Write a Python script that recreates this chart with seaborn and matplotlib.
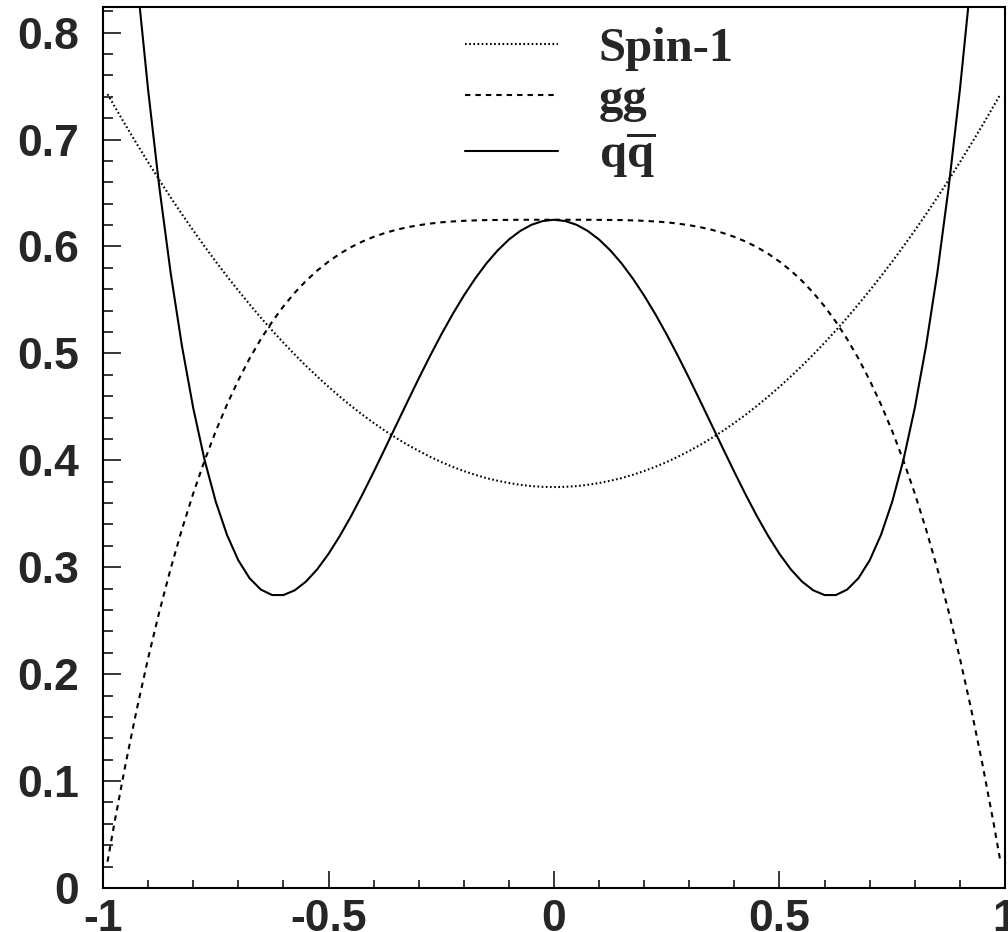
import numpy as np
import pandas as pd
import matplotlib
matplotlib.use('Agg')
import matplotlib.pyplot as plt
import seaborn as sns
from matplotlib.ticker import MultipleLocator

# cos(theta) sample points and curve values
cos_theta = [-0.99, -0.975, -0.95, -0.925, -0.9, -0.875, -0.85, -0.825, -0.8, -0.775,
             -0.75, -0.725, -0.7, -0.675, -0.65, -0.625, -0.6, -0.575, -0.55, -0.525,
             -0.5, -0.475, -0.45, -0.425, -0.4, -0.375, -0.35, -0.325, -0.3, -0.275,
             -0.25, -0.225, -0.2, -0.175, -0.15, -0.125, -0.1, -0.075, -0.05, -0.025, 0.0,
             0.025, 0.05, 0.075, 0.1, 0.125, 0.15, 0.175, 0.2, 0.225, 0.25,
             0.275, 0.3, 0.325, 0.35, 0.375, 0.4, 0.425, 0.45, 0.475, 0.5,
             0.525, 0.55, 0.575, 0.6, 0.625, 0.65, 0.675, 0.7, 0.725, 0.75,
             0.775, 0.8, 0.825, 0.85, 0.875, 0.9, 0.925, 0.95, 0.975, 0.99]
spin1 = [0.7425, 0.7315, 0.7134, 0.6959, 0.6788, 0.6621, 0.6459, 0.6302, 0.6150, 0.6002,
         0.5859, 0.5721, 0.5588, 0.5459, 0.5334, 0.5215, 0.5100, 0.4990, 0.4884, 0.4784,
         0.4688, 0.4596, 0.4509, 0.4427, 0.4350, 0.4277, 0.4209, 0.4146, 0.4088, 0.4034,
         0.3984, 0.3940, 0.3900, 0.3865, 0.3834, 0.3809, 0.3788, 0.3771, 0.3759, 0.3752, 0.3750,
         0.3752, 0.3759, 0.3771, 0.3788, 0.3809, 0.3834, 0.3865, 0.3900, 0.3940, 0.3984,
         0.4034, 0.4088, 0.4146, 0.4209, 0.4277, 0.4350, 0.4427, 0.4509, 0.4596, 0.4688,
         0.4784, 0.4884, 0.4990, 0.5100, 0.5215, 0.5334, 0.5459, 0.5588, 0.5721, 0.5859,
         0.6002, 0.6150, 0.6302, 0.6459, 0.6621, 0.6788, 0.6959, 0.7134, 0.7315, 0.7425]
gg = [0.0246, 0.0602, 0.1159, 0.1674, 0.2149, 0.2586, 0.2987, 0.3355, 0.3690, 0.3995,
      0.4273, 0.4523, 0.4749, 0.4953, 0.5134, 0.5296, 0.5440, 0.5567, 0.5678, 0.5775,
      0.5859, 0.5932, 0.5994, 0.6046, 0.6090, 0.6126, 0.6156, 0.6180, 0.6199, 0.6214,
      0.6226, 0.6234, 0.6240, 0.6244, 0.6247, 0.6248, 0.6249, 0.6250, 0.6250, 0.6250, 0.6250,
      0.6250, 0.6250, 0.6250, 0.6249, 0.6248, 0.6247, 0.6244, 0.6240, 0.6234, 0.6226,
      0.6214, 0.6199, 0.6180, 0.6156, 0.6126, 0.6090, 0.6046, 0.5994, 0.5932, 0.5859,
      0.5775, 0.5678, 0.5567, 0.5440, 0.5296, 0.5134, 0.4953, 0.4749, 0.4523, 0.4273,
      0.3995, 0.3690, 0.3355, 0.2987, 0.2586, 0.2149, 0.1674, 0.1159, 0.0602, 0.0246]
qqbar = [1.1888, 1.1018, 0.9691, 0.8509, 0.7465, 0.6549, 0.5753, 0.5070, 0.4490, 0.4007,
         0.3613, 0.3302, 0.3065, 0.2897, 0.2791, 0.2740, 0.2740, 0.2784, 0.2866, 0.2981,
         0.3125, 0.3292, 0.3478, 0.3679, 0.3890, 0.4108, 0.4328, 0.4548, 0.4765, 0.4975,
         0.5176, 0.5365, 0.5540, 0.5699, 0.5841, 0.5963, 0.6065, 0.6145, 0.6203, 0.6238, 0.6250,
         0.6238, 0.6203, 0.6145, 0.6065, 0.5963, 0.5841, 0.5699, 0.5540, 0.5365, 0.5176,
         0.4975, 0.4765, 0.4548, 0.4328, 0.4108, 0.3890, 0.3679, 0.3478, 0.3292, 0.3125,
         0.2981, 0.2866, 0.2784, 0.2740, 0.2740, 0.2791, 0.2897, 0.3065, 0.3302, 0.3613,
         0.4007, 0.4490, 0.5070, 0.5753, 0.6549, 0.7465, 0.8509, 0.9691, 1.1018, 1.1888]
labels = ['Spin-1', 'gg', r'q$\overline{\mathbf{q}}$']
xticks = [-1, -0.5, 0, 0.5, 1]
xticklabels = ['-1', '-0.5', '0', '0.5', '1']
yticks = [0, 0.1, 0.2, 0.3, 0.4, 0.5, 0.6, 0.7, 0.8]
yticklabels = ['0', '0.1', '0.2', '0.3', '0.4', '0.5', '0.6', '0.7', '0.8']

sns.set_theme(style='ticks')
plt.rcParams['font.family'] = ['Liberation Sans', 'DejaVu Sans']
plt.rcParams['mathtext.fontset'] = 'custom'
plt.rcParams['mathtext.bf'] = 'Liberation Serif:bold'
plt.rcParams['mathtext.rm'] = 'Liberation Serif:bold'

fig = plt.figure(figsize=(10.08, 9.32), dpi=100)
ax = fig.add_axes([0.1022, 0.0472, 0.8948, 0.9453])

df = pd.DataFrame({'x': cos_theta, 'spin1': spin1, 'gg': gg, 'qq': qqbar})
sns.lineplot(data=df, x='x', y='spin1', ax=ax, color='black', lw=1.5,
             linestyle=(0, (0.8, 1.2)), label=labels[0])
sns.lineplot(data=df, x='x', y='gg', ax=ax, color='black', lw=1.5,
             linestyle=(0, (2.6, 2.4)), label=labels[1])
sns.lineplot(data=df, x='x', y='qq', ax=ax, color='black', lw=1.5,
             linestyle='-', label=labels[2])

ax.set_xlim(-1, 1)
ax.set_ylim(0, 0.824)
ax.set_xlabel('')
ax.set_ylabel('')
ax.xaxis.set_minor_locator(MultipleLocator(0.1))
ax.yaxis.set_minor_locator(MultipleLocator(0.02))
ax.set_xticks(xticks)
ax.set_xticklabels(xticklabels)
ax.set_yticks(yticks)
ax.set_yticklabels(yticklabels)
ax.tick_params(axis='y', which='major', direction='in', length=13, width=1.3,
               labelsize=32, pad=17)
ax.tick_params(axis='y', which='minor', direction='in', length=7, width=1.3)
ax.tick_params(axis='x', which='major', direction='in', length=12, width=1.3,
               labelsize=32, pad=8)
ax.tick_params(axis='x', which='minor', direction='in', length=6, width=1.3)
for lab in ax.get_xticklabels() + ax.get_yticklabels():
    lab.set_fontweight('bold')
for sp in ax.spines.values():
    sp.set_visible(True)
    sp.set_linewidth(1.5)
    sp.set_color('black')

leg = ax.legend(loc='upper left', bbox_to_anchor=(0.38, 0.9995), frameon=False,
                handlelength=1.9, handletextpad=0.85, labelspacing=0.15,
                borderaxespad=0, prop={'family': 'Liberation Serif', 'weight': 'bold', 'size': 35})

fig.savefig('out.png', dpi=100)
